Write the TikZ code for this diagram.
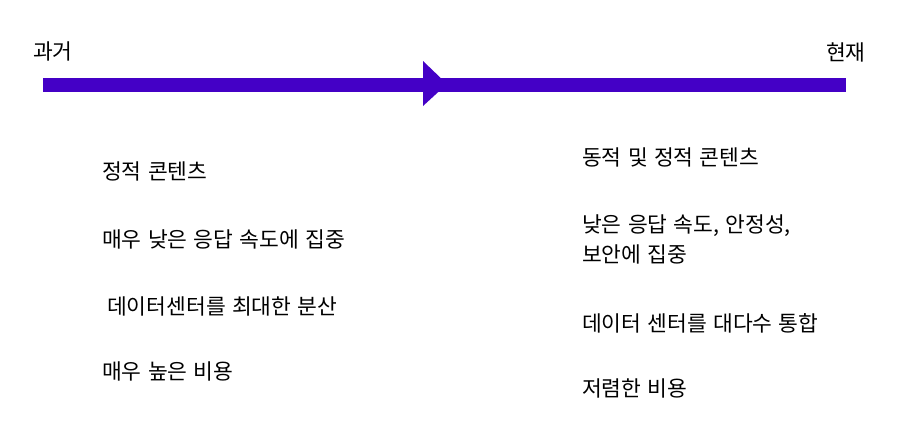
\documentclass[tikz,border=0pt]{standalone}
\usepackage{fontspec}
\setmainfont[WordSpace={1.3}]{Noto Sans CJK KR}
\definecolor{barpurple}{RGB}{68,0,198}
\begin{document}
\begin{tikzpicture}[x=1pt,y=-1pt,
  lbl/.style={anchor=west,inner sep=0pt,font=\fontsize{21.5}{30}\selectfont,text=black},
  bar/.style={line width=13.4pt,draw=barpurple}]
\useasboundingbox (0,0) rectangle (914,440);
\coordinate (past) at (43,85);
\coordinate (now) at (846,85);
\draw[bar] (past) -- (now);
\fill[barpurple] (423,61) -- (447,84) -- (423,106) -- cycle;
\node[lbl] (tpast) at (33,51) {과거};
\node[lbl] (tnow) at (826,52) {현재};
\node[lbl] (l1) at (102,171) {정적 콘텐츠};
\node[lbl] (l2) at (102,239) {매우 낮은 응답 속도에 집중};
\node[lbl] (l3) at (107,306) {데이터센터를 최대한 분산};
\node[lbl] (l4) at (102,371) {매우 높은 비용};
\node[lbl] (r1) at (582,157) {동적 및 정적 콘텐츠};
\node[lbl,align=left] (r2) at (582,239) {낮은 응답 속도, 안정성,\\보안에 집중};
\node[lbl] (r3) at (582,323) {데이터 센터를 대다수 통합};
\node[lbl] (r4) at (582,388) {저렴한 비용};
\end{tikzpicture}
\end{document}
